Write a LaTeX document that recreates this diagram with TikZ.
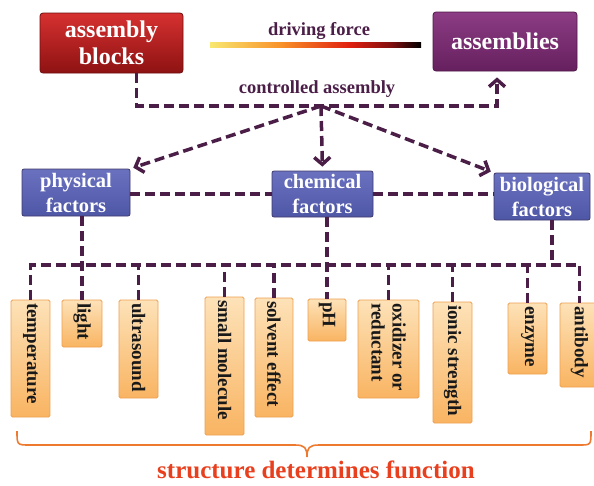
\documentclass[tikz,border=0pt]{standalone}
\usepackage{fontspec}
\usepackage{graphicx}
\setmainfont{Liberation Serif}
\usetikzlibrary{arrows.meta,shadings}
\definecolor{lineC}{HTML}{4A1E47}
\definecolor{redT}{HTML}{D63030}
\definecolor{redB}{HTML}{8E1212}
\definecolor{redD}{HTML}{6E0E0E}
\definecolor{purT}{HTML}{8C3C84}
\definecolor{purB}{HTML}{66205E}
\definecolor{purD}{HTML}{4E1848}
\definecolor{facT}{HTML}{6A72C0}
\definecolor{facB}{HTML}{4E56A6}
\definecolor{facD}{HTML}{3E3A6A}
\definecolor{leafL}{HTML}{FDE2B8}
\definecolor{leafD}{HTML}{F9B462}
\definecolor{leafE}{HTML}{EFA050}
\definecolor{dfY}{HTML}{F8E870}
\definecolor{dfO}{HTML}{F89028}
\definecolor{dfR}{HTML}{E02010}
\definecolor{dfD}{HTML}{801010}
\definecolor{braceC}{HTML}{EE7A30}
\definecolor{sdfC}{HTML}{E8401E}
\pgfdeclarehorizontalshading{dforce}{100bp}{color(0bp)=(dfY); color(25bp)=(dfY); color(42bp)=(dfO); color(58bp)=(dfR); color(68bp)=(dfD); color(75bp)=(black); color(100bp)=(black)}
\newcommand\lftext[2]{\rotatebox{-90}{\parbox{#1}{\raggedright #2}}}
\begin{document}
\begin{tikzpicture}[x=1pt,y=-1pt,
  dl/.style={draw=lineC, line width=3.5pt, dash pattern=on 10pt off 5pt},
  arr/.style={-{Straight Barb[length=7pt,width=16pt]}},
  bigbox/.style={rounded corners=3pt, line width=0.8pt, text=white, align=center,
    font=\bfseries\fontsize{24}{27}\selectfont, inner sep=2pt},
  facbox/.style={rounded corners=2pt, line width=0.8pt, draw=facD, top color=facT, bottom color=facB,
    text=white, align=center, font=\bfseries\fontsize{20.5}{25}\selectfont, inner sep=1pt},
  leaf/.style={draw=leafE, line width=0.8pt, top color=leafL, bottom color=leafD,
    rounded corners=1.5pt, font=\bfseries\fontsize{19}{21}\selectfont, text=black!90,
    inner xsep=0pt, inner ysep=3pt},
  lab/.style={font=\bfseries\fontsize{18.5}{21}\selectfont, text=lineC, inner sep=0pt}]
\useasboundingbox (0,0) rectangle (594,485);

% top boxes
\node[bigbox, draw=redD, top color=redT, bottom color=redB, minimum width=143pt, minimum height=60pt]
  (blocks) at (111.5,43) {assembly\\blocks};
\node[bigbox, draw=purD, top color=purT, bottom color=purB, minimum width=144pt, minimum height=59pt]
  (assem) at (505,41.5) {assemblies};

% labels
\node[lab] (df) at (319,31) {driving force};
\shade[shading=dforce] (210,42) rectangle (421,47);
\node[lab] (ca) at (317,89) {controlled assembly};

% factor boxes
\node[facbox, minimum width=108pt, minimum height=47pt] (phys) at (76,192.5) {physical\\factors};
\node[facbox, minimum width=101pt, minimum height=46pt] (chem) at (322.5,194) {chemical\\factors};
\node[facbox, minimum width=96pt, minimum height=47pt] (bio) at (542,196.5) {biological\\factors};

% leaves
\node[leaf, minimum width=39pt] (temp) at (30.5,358.5) {\lftext{111pt}{temperature}};
\node[leaf, minimum width=40pt] (light) at (82,323.5) {\lftext{41pt}{light}};
\node[leaf, minimum width=39pt] (ultra) at (138.5,349) {\lftext{92pt}{ultrasound}};
\node[leaf, minimum width=39pt] (small) at (224.5,366) {\lftext{132pt}{small molecule}};
\node[leaf, minimum width=38pt] (solv) at (274,357.5) {\lftext{113pt}{solvent effect}};
\node[leaf, minimum width=38pt] (ph) at (327,320) {\lftext{36pt}{pH}};
\node[leaf, minimum width=61pt] (oxid) at (388.5,349) {\lftext{92pt}{oxidizer or\\reductant}};
\node[leaf, minimum width=39pt] (ionic) at (452.5,362.5) {\lftext{115pt}{ionic strength}};
\node[leaf, minimum width=39pt] (enz) at (527.5,338.5) {\lftext{65pt}{enzyme}};
\node[leaf, minimum width=39pt] (anti) at (579.5,345) {\lftext{78pt}{antibody}};

% controlled assembly connectors
\coordinate (hub) at (321,106);
\draw[dl, arr, shorten >=6pt] ([xshift=25pt]blocks.south) |- (hub) -| ([xshift=-8pt]assem.south);
\draw[dl, arr, shorten >=3pt] (hub) -- (phys.north east);
\draw[dl, arr, shorten >=4pt] (hub) -- (chem.north);
\draw[dl, arr, shorten >=3pt] (hub) -- (bio.north west);

% factor links
\draw[dl] (phys.east |- chem.west) -- (chem.west);
\draw[dl] (chem.east) -- (chem.east -| bio.west);

% bus
\coordinate (busY) at (0,265);
\draw[dl] (temp.north) -- (temp.north |- busY) -- (anti.north |- busY) -- (anti.north);
\draw[dl] (light.north |- phys.south) -- (light.north);
\draw[dl] (ph.north |- chem.south) -- (ph.north);
\draw[dl] ([xshift=10pt]bio.south) -- ([xshift=10pt]bio.south |- busY);
\foreach \n in {ultra,small,solv,oxid,ionic,enz}
  \draw[dl] (\n.north) -- (\n.north |- busY);

% brace
\draw[draw=braceC, line width=1.6pt]
  (17,431) .. controls (17,445) and (17,445) .. (30,445) -- (295,445)
  .. controls (305,445) and (307,448) .. (307,457)
  .. controls (307,448) and (309,445) .. (319,445) -- (579,445)
  .. controls (591,445) and (591,445) .. (591,431);
\node[font=\bfseries\fontsize{25}{28}\selectfont, text=sdfC, inner sep=0pt] (sdf) at (316,470) {structure determines function};
\end{tikzpicture}
\end{document}
